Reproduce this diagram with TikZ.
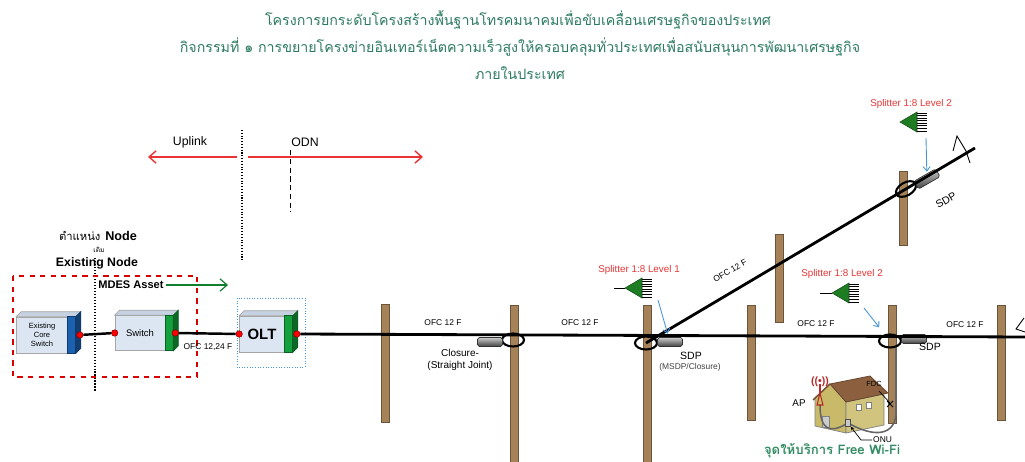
\documentclass[tikz,border=0pt]{standalone}
\usepackage{fontspec}
\setmainfont{Liberation Sans}
\newfontfamily\thaifont[Script=Thai]{Loma}
\usepackage{xcolor}
\usepackage{tikz}
\usetikzlibrary{arrows.meta, positioning, shapes.geometric, calc}

\definecolor{titlegreen}{RGB}{44,122,98}
\definecolor{wifigreen}{RGB}{52,140,100}
\definecolor{linkred}{RGB}{232,52,52}
\definecolor{polebrown}{RGB}{165,130,88}
\definecolor{boxface}{RGB}{220,230,242}
\definecolor{boxtop}{RGB}{198,210,226}
\definecolor{coreblue}{RGB}{28,96,176}
\definecolor{portgreen}{RGB}{20,160,60}
\definecolor{splgreen}{RGB}{30,125,35}
\definecolor{hintblue}{RGB}{70,150,215}
\definecolor{wallyellow}{RGB}{200,186,104}
\definecolor{roofbrown}{RGB}{140,96,62}

\begin{document}
\begin{tikzpicture}[x=0.02cm, y=-0.02cm,
    titletext/.style={font=\thaifont\fontsize{8.1}{10}\selectfont, text=titlegreen},
    lbl/.style={font=\fontsize{4.8}{5.5}\selectfont, inner sep=0},
    redlbl/.style={font=\fontsize{5.6}{6.5}\selectfont, text=linkred, inner sep=0},
    pole/.style={fill=polebrown, draw=polebrown!65!black, line width=0.3pt},
    fiber/.style={draw=black, line width=1.6pt},
    link/.style={draw=black, line width=1.4pt},
    cableloop/.style={ellipse, draw=black, line width=1.2pt, minimum width=0.44cm, minimum height=0.26cm, inner sep=0},
    closure/.style={rectangle, rounded corners=1pt, draw=black!80, top color=gray!40, bottom color=black!75, minimum width=0.5cm, minimum height=0.18cm, inner sep=0},
    box/.style={rectangle, draw=gray!70, fill=boxface, inner sep=0, align=center},
    port/.style={circle, fill=red, draw=red!50!black, line width=0.3pt, inner sep=0, minimum size=0.13cm},
    span/.style={draw=linkred, line width=0.8pt, -{Straight Barb[length=4pt, width=7pt]}},
    hint/.style={draw=hintblue, line width=0.5pt, -{Straight Barb[length=2.5pt, width=4pt]}},
    splitter/.style={fill=splgreen, draw=splgreen!60!black, line width=0.3pt}
]
\useasboundingbox (0,0) rectangle (1025,462);

% heading
\node[titletext] (title1) at (518,20) {โครงการยกระดับโครงสร้างพื้นฐานโทรคมนาคมเพื่อขับเคลื่อนเศรษฐกิจของประเทศ};
\node[titletext] (title2) at (520,47) {กิจกรรมที่ ๑ การขยายโครงข่ายอินเทอร์เน็ตความเร็วสูงให้ครอบคลุมทั่วประเทศเพื่อสนับสนุนการพัฒนาเศรษฐกิจ};
\node[titletext] (title3) at (520,73) {ภายในประเทศ};

% uplink / odn split
\coordinate (split) at (242,157);
\draw[densely dotted, line width=0.6pt] (242,130) -- (242,260);
\draw[dash pattern=on 3pt off 2pt, line width=0.5pt] (290,150) -- (290,212);
\draw[span] ($(split)+(-5,0)$) -- (148,157);
\draw[span] ($(split)+(6,0)$) -- (423,157);
\node[font=\fontsize{7}{8}\selectfont] (uplink) at (190,142) {Uplink};
\node[font=\fontsize{7}{8}\selectfont] (odn) at (305,142) {ODN};

% existing node
\node (nodepos) at (98,236) {{\thaifont\fontsize{6.4}{7}\selectfont ตำแหน่ง} {\bfseries\fontsize{7.2}{8}\selectfont Node}};
\node[font=\thaifont\fontsize{3.8}{4}\selectfont, inner sep=0] (nodeold) at (99,250) {เดิม};
\node[font=\bfseries\fontsize{7}{8}\selectfont, inner sep=1pt] (existnode) at (97,263) {Existing Node};
\draw[densely dotted, line width=0.7pt] (95,258) -- (95,392);
\draw[draw=red!85!black, dashed, line width=0.6pt] (13,276) rectangle (197,377);
\node[font=\bfseries\fontsize{6.3}{7}\selectfont, anchor=west, inner sep=0] (mdes) at (98,285) {MDES Asset};
\draw[draw=portgreen!80!black, line width=0.7pt, -{Straight Barb[length=4pt, width=7pt]}] (mdes.east) ++(2,0) -- (228,285);
\draw[draw=hintblue, densely dotted, line width=0.5pt] (237,298) rectangle (305,367);

% equipment
\node[box, minimum width=1.02cm, minimum height=0.72cm, font=\fontsize{4.3}{5}\selectfont] (core) at (42,335) {Existing\\Core\\Switch};
\node[box, minimum width=1.0cm, minimum height=0.70cm, font=\fontsize{5.4}{6}\selectfont] (sw) at (140,333) {Switch};
\node[box, minimum width=0.9cm, minimum height=0.72cm, font=\bfseries\fontsize{8.5}{9}\selectfont] (olt) at (262,334) {OLT};
\foreach \b/\c in {core/coreblue, sw/portgreen, olt/portgreen} {
  \draw[draw=gray!70, fill=boxtop] (\b.north west) -- ++(5,-5) -- ($(\b.north east)+(13,-5)$) -- ($(\b.north east)+(8,0)$) -- cycle;
  \draw[draw=\c!60!black, fill=\c] (\b.north east) rectangle ($(\b.south east)+(8,0)$);
  \draw[draw=\c!60!black, fill=\c!65!black] ($(\b.north east)+(8,0)$) -- ++(5,-5) -- ($(\b.south east)+(13,-5)$) -- ($(\b.south east)+(8,0)$) -- cycle;
}
\node[port] (core-out) at ($(core.east)+(12,0)$) {};
\node[port] (sw-in) at (sw.west) {};
\node[port] (sw-out) at ($(sw.east)+(10,0)$) {};
\node[port] (olt-in) at (olt.west) {};
\node[port] (olt-out) at ($(olt.east)+(12,0)$) {};
\draw[link] (core-out) -- (sw-in);
\draw[link] (sw-out) -- (olt-in);
\node[lbl] (ofc0) at (208,347) {OFC 12,24 F};

% poles
\foreach \px/\ptop/\pbot in {385/304/422, 514/305/462, 647/305/462, 751/305/420, 779/234/322, 892/305/423, 1001/305/420, 903/171/245}
  \draw[pole] ({\px-4},\ptop) rectangle ({\px+4},\pbot);

% joints on the route
\node[cableloop] (lp2) at (513,340) {};
\node[cableloop] (lp3) at (646,343) {};
\node[cableloop] (lp6) at (890,341) {};
\node[cableloop, rotate=30] (lp8) at (906,189) {};
\node[closure] (cj1) at (490,342) {};
\node[closure] (sdp1) at (670,342) {};
\node[closure] (sdp2) at (914,339) {};
\node[closure, rotate=30] (sdp3) at (927,179) {};

% fibre runs
\coordinate (mainend) at (1025,337);
\coordinate (diagend) at (975,148);
\draw[fiber] (olt-out) -- (mainend);
\draw[fiber] (lp3.center) -- (diagend);
\draw[line width=0.5pt] (953,151) -- (957,136) -- (966,151) -- (970,163);
\draw[line width=0.5pt] (1024,318) -- (1016,329) -- (1025,332);

\node[lbl] (ofc1) at (443,323) {OFC 12 F};
\node[lbl] (ofc2) at (580,323) {OFC 12 F};
\node[lbl] (ofc3) at (816,324) {OFC 12 F};
\node[lbl] (ofc4) at (965,325) {OFC 12 F};
\node[lbl, rotate=30] (ofc5) at (730,271) {OFC 12 F};

\node[font=\fontsize{5.7}{6.8}\selectfont, align=center] (cjlbl) at (460,360) {Closure-\\(Straight Joint)};
\node[font=\fontsize{6}{7}\selectfont] (sdp1lbl) at (691,356) {SDP};
\node[font=\fontsize{4.8}{5}\selectfont, text=black!75] (msdp) at (690,367) {(MSDP/Closure)};
\node[font=\fontsize{6}{7}\selectfont] (sdp2lbl) at (930,347) {SDP};
\node[font=\fontsize{6}{7}\selectfont, rotate=30, inner sep=0] (sdp3lbl) at (946,200) {SDP};

% splitters
\foreach \n/\tx/\ty in {1/625/288, 2/832/293, 3/900/122} {
  \coordinate (spl\n) at (\tx,\ty);
  \draw[splitter] (spl\n) -- ++(17,-10) -- ++(0,20) -- cycle;
  \foreach \k in {0,...,7}
    \draw[line width=0.3pt] ($(spl\n)+(17,-9+2.55*\k)$) -- ++(10,0);
}
\draw[line width=0.4pt] (spl1) -- ++(-11,0);
\draw[line width=0.4pt] (spl2) -- ++(-12,0);
\node[redlbl] (spl1lbl) at (639,270) {Splitter 1:8 Level 1};
\node[redlbl] (spl2lbl) at (842,274) {Splitter 1:8 Level 2};
\node[redlbl] (spl3lbl) at (911,104) {Splitter 1:8 Level 2};
\draw[hint, shorten >=2pt] ($(spl1)+(33,12)$) -- (sdp1);
\draw[hint, shorten >=5pt] ($(spl2)+(32,15)$) -- (lp6);
\draw[hint, shorten >=1pt] ($(spl3)+(26,16)$) -- (sdp3);

% free wi-fi point
\draw[draw=black!50, fill=wallyellow] (815,398) -- (830,384) -- (846,402) -- (846,433) -- (815,426) -- cycle;
\draw[draw=black!50, fill=wallyellow!85!white] (846,402) -- (884,394) -- (884,425) -- (846,433) -- cycle;
\draw[draw=roofbrown!70!black, fill=roofbrown] (830,384) -- (846,402) -- (888,393) -- (870,376) -- cycle;
\draw[roofbrown!80!black, line width=0.8pt] (813,400) -- (830,384);
\fill[white, draw=gray] (856,404) rectangle (861,410);
\fill[white, draw=gray] (866,402) rectangle (871,408);
\fill[gray!40, draw=gray] (822,416) rectangle (829,427);
\node[draw=black!70, fill=gray!45, minimum width=0.1cm, minimum height=0.14cm, inner sep=0] (onu) at (848,423) {};
\draw[black!60, line width=0.9pt] (820,405) .. controls (820,430) and (830,433) .. (onu);
\draw[black!60, line width=0.9pt] (onu) .. controls (880,440) and (897,432) .. (896,410) -- (896,348);
\draw[linkred!80!black, line width=0.6pt] (817,405) -- (820,393) -- (823,405) -- cycle;
\draw[linkred!80!black, line width=0.6pt] (820,384) -- (820,394);
\node[text=linkred!80!black, font=\bfseries\fontsize{6}{6}\selectfont, inner sep=0] (apsig) at (820,382) {((\textbullet))};
\node[font=\fontsize{5.6}{6}\selectfont] (aplbl) at (799,403) {AP};
\node[font=\fontsize{4.2}{5}\selectfont] (fdclbl) at (874,384) {FDC};
\draw[line width=0.4pt] (879,391) -- (890,403);
\draw[line width=0.5pt] (887,401) -- (893,407) (887,407) -- (893,401);
\node[font=\fontsize{4.8}{5}\selectfont, anchor=west, inner sep=0.5pt] (onulbl) at (872,440) {ONU};
\draw[line width=0.4pt, -{Stealth[length=2pt, width=2pt]}] (onulbl.west) -- (861,440) -- (onu);
\node[font=\thaifont\bfseries\fontsize{7.5}{8}\selectfont, text=wifigreen] (wifi) at (832,451) {จุดให้บริการ Free Wi-Fi};
\end{tikzpicture}
\end{document}
